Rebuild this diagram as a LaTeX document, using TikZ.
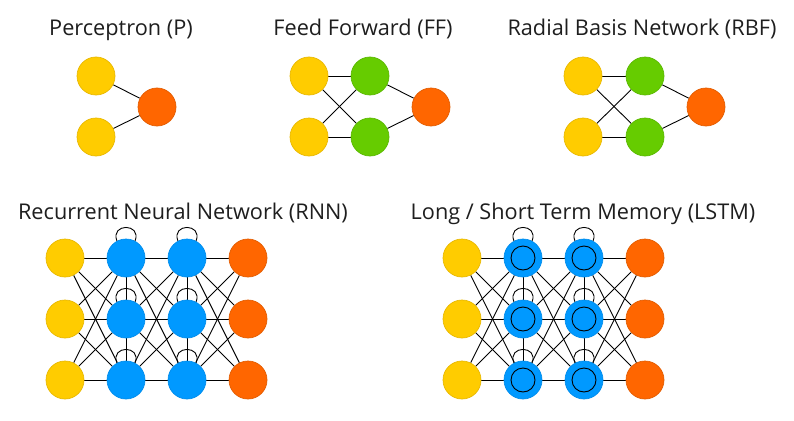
\documentclass[tikz,border=0pt]{standalone}
\usepackage{fontspec}
\setmainfont{Open Sans}
\pgfdeclarelayer{bg}
\pgfsetlayers{bg,main}
\definecolor{cy}{RGB}{255,204,0}
\definecolor{cyd}{RGB}{232,184,0}
\definecolor{cg}{RGB}{102,204,0}
\definecolor{cgd}{RGB}{90,184,0}
\definecolor{co}{RGB}{255,102,0}
\definecolor{cod}{RGB}{226,92,0}
\definecolor{cb}{RGB}{0,153,255}
\definecolor{cbd}{RGB}{0,140,235}
\definecolor{txt}{RGB}{30,30,30}
\tikzset{
  neuron/.style={circle, minimum size=38pt, inner sep=0pt, line width=0.7pt},
  inp/.style={neuron, fill=cy, draw=cyd},
  hidg/.style={neuron, fill=cg, draw=cgd},
  outp/.style={neuron, fill=co, draw=cod},
  hidb/.style={neuron, fill=cb, draw=cbd},
  memb/.style={hidb, path picture={\draw[black, line width=0.9pt] (path picture bounding box.center) circle[radius=12pt];}},
  conn/.style={draw=black, line width=0.9pt},
  ttl/.style={font=\fontsize{21.7}{25}\selectfont, text=txt, inner sep=0pt, anchor=base}
}
\begin{document}
\begin{tikzpicture}[x=1pt, y=-1pt]
\useasboundingbox (0,0) rectangle (794,420);
% titles
\node[ttl] (tP) at (121,36) {Perceptron (P)};
\node[ttl] (tFF) at (363,36) {Feed Forward (FF)};
\node[ttl] (tRBF) at (642,36) {Radial Basis Network (RBF)};
\node[ttl] (tRNN) at (183,219) {Recurrent Neural Network (RNN)};
\node[ttl] (tLSTM) at (583,219) {Long / Short Term Memory (LSTM)};
% Perceptron
\node[inp] (p1) at (96,76) {};
\node[inp] (p2) at (96,137) {};
\node[outp] (po) at (157,107) {};
% FF
\node[inp] (f1) at (309,76) {};
\node[inp] (f2) at (309,137) {};
\node[hidg] (fh1) at (370,76) {};
\node[hidg] (fh2) at (370,137) {};
\node[outp] (fo) at (431,107) {};
% RBF
\node[inp] (b1) at (583,76) {};
\node[inp] (b2) at (583,137) {};
\node[hidg] (bh1) at (645,76) {};
\node[hidg] (bh2) at (645,137) {};
\node[outp] (bo) at (706,107) {};
% RNN and LSTM
\foreach \r/\y in {1/258,2/319,3/380}{
  \node[inp] (r0\r) at (65,\y) {};
  \node[hidb] (r1\r) at (126,\y) {};
  \node[hidb] (r2\r) at (187,\y) {};
  \node[outp] (r3\r) at (248,\y) {};
  \node[inp] (l0\r) at (462,\y) {};
  \node[memb] (l1\r) at (523,\y) {};
  \node[memb] (l2\r) at (584,\y) {};
  \node[outp] (l3\r) at (645,\y) {};
}
\begin{pgfonlayer}{bg}
\draw[conn] (p1) -- (po) (p2) -- (po);
\foreach \a in {f1,f2}{\foreach \b in {fh1,fh2}{\draw[conn] (\a) -- (\b);}}
\draw[conn] (fh1) -- (fo) (fh2) -- (fo);
\foreach \a in {b1,b2}{\foreach \b in {bh1,bh2}{\draw[conn] (\a) -- (\b);}}
\draw[conn] (bh1) -- (bo) (bh2) -- (bo);
\foreach \p in {r,l}{
  \foreach \k/\n in {0/1,1/2,2/3}{
    \foreach \i in {1,2,3}{\foreach \j in {1,2,3}{
      \draw[conn] (\p\k\i) -- (\p\n\j);
    }}
  }
  \foreach \k in {1,2}{
    \draw[conn] (\p\k1) -- (\p\k2) (\p\k2) -- (\p\k3);
    \foreach \i in {1,2,3}{
      \draw[conn] (\p\k\i.118) .. controls +(-7,-18) and +(7,-18) .. (\p\k\i.62);
    }
  }
}
\end{pgfonlayer}
\end{tikzpicture}
\end{document}
